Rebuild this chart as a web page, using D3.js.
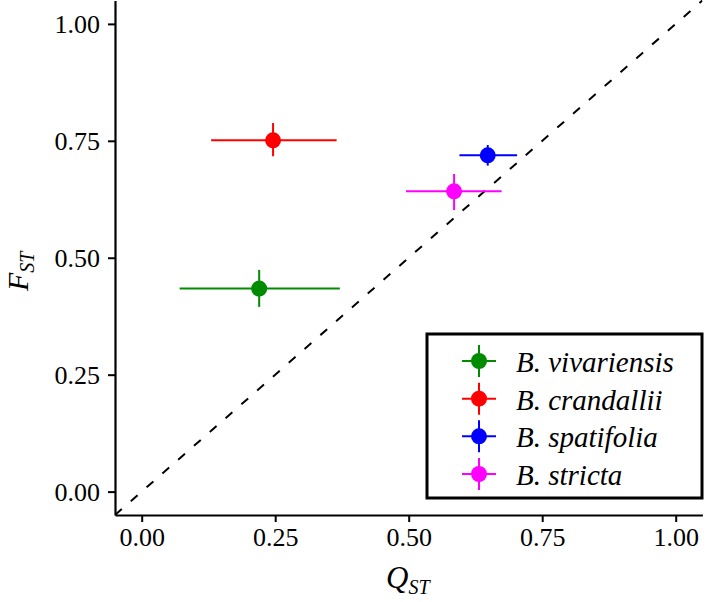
<!DOCTYPE html>
<html>
<head>
<meta charset="utf-8">
<script src="https://cdn.jsdelivr.net/npm/d3@7"></script>
<style>
  html, body { margin: 0; padding: 0; background: #ffffff; }
  svg { display: block; }
</style>
</head>
<body>
<script>
// ---- data ----
const species = ["B. vivariensis", "B. crandallii", "B. spatifolia", "B. stricta"];
const colors  = ["#008B00", "#FF0000", "#0000FF", "#FF00FF"];
const qst   = [0.220, 0.246, 0.648, 0.585];
const qstLo = [0.071, 0.130, 0.595, 0.495];
const qstHi = [0.371, 0.365, 0.703, 0.674];
const fst   = [0.434, 0.751, 0.719, 0.642];
const fstLo = [0.395, 0.717, 0.697, 0.602];
const fstHi = [0.474, 0.788, 0.741, 0.679];
const xTicks = [0, 0.25, 0.5, 0.75, 1.0];
const yTicks = [0, 0.25, 0.5, 0.75, 1.0];
const domain = [-0.05, 1.05];

const W = 709, H = 602;
const pLeft = 115, pRight = 702.4, pTop = 0.5, pBottom = 515;
const font = "'Liberation Serif', 'Times New Roman', serif";

const svg = d3.select("body").append("svg").attr("width", W).attr("height", H);

const x = d3.scaleLinear().domain(domain).range([pLeft, pRight]);
const y = d3.scaleLinear().domain(domain).range([pBottom, pTop]);

const rows = species.map((s, i) => ({
  name: s, color: colors[i],
  qx: qst[i], qlo: qstLo[i], qhi: qstHi[i],
  fy: fst[i], flo: fstLo[i], fhi: fstHi[i]
}));

// clip
svg.append("clipPath").attr("id", "panel")
  .append("rect").attr("x", pLeft).attr("y", 0).attr("width", pRight - pLeft).attr("height", pBottom);

// diagonal dashed 1:1 line
svg.append("line")
  .attr("clip-path", "url(#panel)")
  .attr("x1", x(domain[0])).attr("y1", y(domain[0]))
  .attr("x2", x(domain[1])).attr("y2", y(domain[1]))
  .attr("stroke", "#000").attr("stroke-width", 2)
  .attr("stroke-dasharray", "9,12");

// axes
const fmt = d3.format(".2f");
const xAxis = svg.append("g").attr("transform", `translate(0,${pBottom})`)
  .call(d3.axisBottom(x).tickValues(xTicks).tickFormat(fmt).tickSizeInner(7).tickSizeOuter(0).tickPadding(6));
const yAxis = svg.append("g").attr("transform", `translate(${pLeft},0)`)
  .call(d3.axisLeft(y).tickValues(yTicks).tickFormat(fmt).tickSizeInner(7).tickSizeOuter(0).tickPadding(8));
[xAxis, yAxis].forEach(g => {
  g.selectAll("path.domain").attr("stroke", "#000").attr("stroke-width", 2.2);
  g.selectAll(".tick line").attr("stroke", "#000").attr("stroke-width", 2);
  g.selectAll(".tick text").attr("font-family", font).attr("font-size", 26).attr("fill", "#000");
});
yAxis.selectAll(".tick text").attr("dy", "0.34em");

// error bars + points
const pts = svg.append("g");
rows.forEach(d => {
  pts.append("line")
    .attr("x1", x(d.qlo)).attr("x2", x(d.qhi))
    .attr("y1", y(d.fy)).attr("y2", y(d.fy))
    .attr("stroke", d.color).attr("stroke-width", 2);
  pts.append("line")
    .attr("x1", x(d.qx)).attr("x2", x(d.qx))
    .attr("y1", y(d.flo)).attr("y2", y(d.fhi))
    .attr("stroke", d.color).attr("stroke-width", 2);
  pts.append("circle")
    .attr("cx", x(d.qx)).attr("cy", y(d.fy)).attr("r", 8)
    .attr("fill", d.color);
});

// axis titles
const xt = svg.append("text")
  .attr("x", 386).attr("y", 588)
  .attr("font-family", font).attr("font-style", "italic").attr("font-size", 31).attr("fill", "#000");
xt.append("tspan").text("Q");
xt.append("tspan").attr("font-size", 20).attr("dy", 6).text("ST");

const yt = svg.append("text")
  .attr("transform", "translate(28,291) rotate(-90)")
  .attr("font-family", font).attr("font-style", "italic").attr("font-size", 30).attr("fill", "#000");
yt.append("tspan").text("F");
yt.append("tspan").attr("font-size", 20).attr("dy", 6).text("ST");

// legend
const lg = svg.append("g");
lg.append("rect")
  .attr("x", 427).attr("y", 334).attr("width", 275).attr("height", 164)
  .attr("fill", "#fff").attr("stroke", "#000").attr("stroke-width", 3);
const legY = d3.scalePoint().domain(species).range([361, 474]);
rows.forEach(d => {
  const cy = legY(d.name), cx = 479;
  lg.append("line").attr("x1", cx - 17).attr("x2", cx + 17).attr("y1", cy).attr("y2", cy)
    .attr("stroke", d.color).attr("stroke-width", 2);
  lg.append("line").attr("x1", cx).attr("x2", cx).attr("y1", cy - 16).attr("y2", cy + 16)
    .attr("stroke", d.color).attr("stroke-width", 2);
  lg.append("circle").attr("cx", cx).attr("cy", cy).attr("r", 8).attr("fill", d.color);
  lg.append("text").attr("x", 516).attr("y", cy + 11)
    .attr("font-family", font).attr("font-style", "italic").attr("font-size", 29).attr("fill", "#000")
    .text(d.name);
});
</script>
</body>
</html>
